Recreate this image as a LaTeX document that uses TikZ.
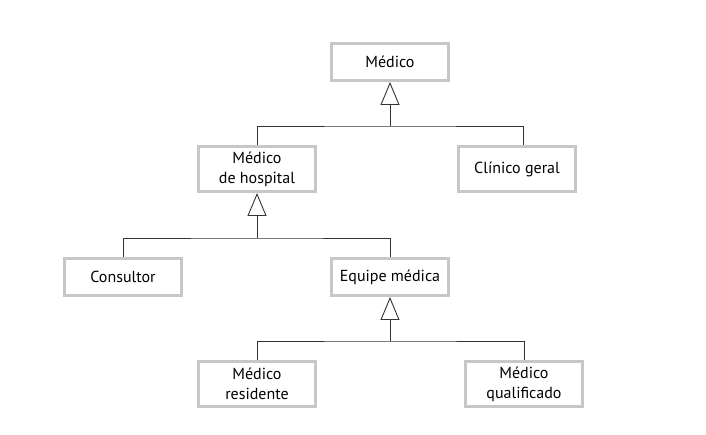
\documentclass[tikz,border=0pt]{standalone}
\usepackage{fontspec}
\setmainfont{PT Sans}
\usetikzlibrary{arrows.meta}

\begin{document}
\begin{tikzpicture}[x=1pt,y=1pt,
        classe/.style={draw=black!22,line width=3pt,fill=white,align=center,
            minimum width=117pt,font=\fontsize{16}{20}\selectfont},
        baixa/.style={classe,minimum height=37pt},
        alta/.style={classe,minimum height=45pt},
        heranca/.style={-{Triangle[open,length=23pt,width=19pt]},line width=0.9pt,black!80},
        liga/.style={line width=0.9pt,black!80}]
        \useasboundingbox (0,0) rectangle (706,435);
        % classes
        \node[baixa] (medico)  at (390,373) {Médico};
        \node[alta]  (hosp)    at (257,266) {Médico\\de hospital};
        \node[alta]  (clinico) at (517,266) {Clínico geral};
        \node[baixa] (consult) at (123,158) {Consultor};
        \node[baixa] (equipe)  at (390,158) {Equipe médica};
        \node[alta]  (resid)   at (257,51)  {Médico\\residente};
        \node[alta]  (qualif)  at (524,51)  {Médico\\qualificado};
        % Médico
        \coordinate (b1) at (390,309);
        \coordinate (c1) at (523,309);
        \draw[heranca] (b1) -- (medico.south);
        \draw[liga] (hosp.north) |- (b1) -- (c1) -- (c1 |- clinico.north);
        % Médico de hospital
        \coordinate (b2) at (257,197);
        \draw[heranca] (b2) -- (hosp.south);
        \draw[liga] (consult.north) |- (b2) -| (equipe.north);
        % Equipe médica
        \coordinate (b3) at (390,94);
        \draw[heranca] (b3) -- (equipe.south);
        \draw[liga] (resid.north) |- (b3) -| (qualif.north);
    \end{tikzpicture}
\end{document}
